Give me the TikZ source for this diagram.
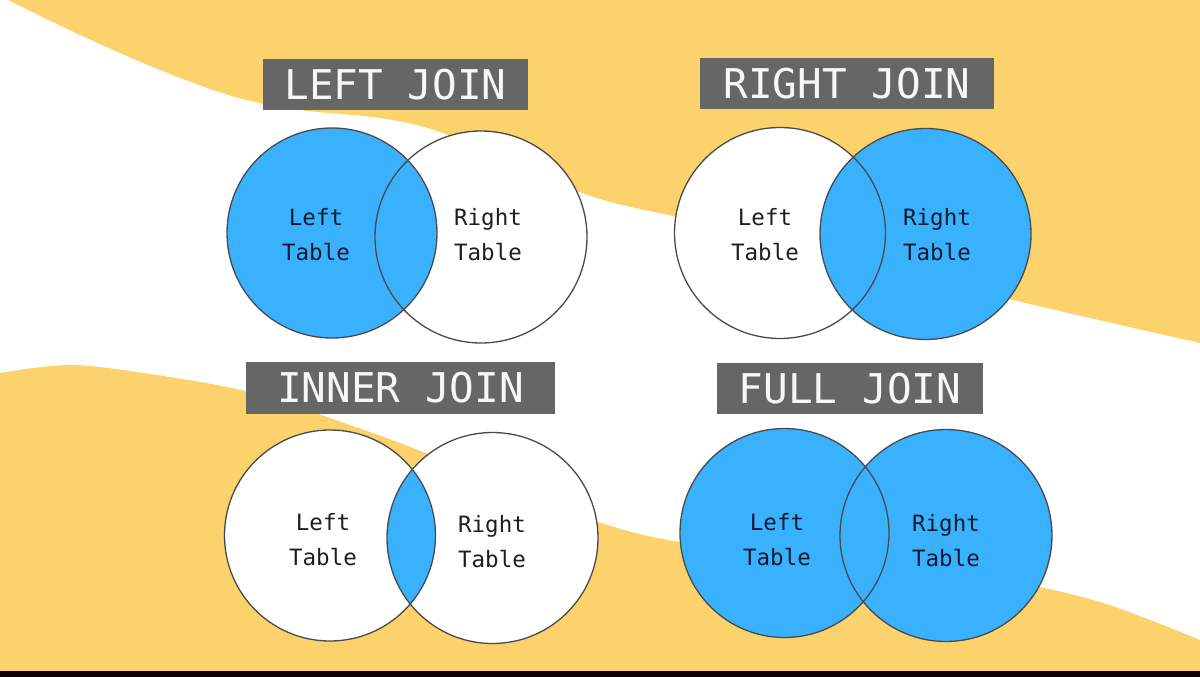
\documentclass[tikz,border=0pt]{standalone}
\usepackage{fontspec}
\newfontfamily\monof{DejaVu Sans Mono}
\definecolor{bandyellow}{HTML}{FCD26C}
\definecolor{vennblue}{HTML}{3AB1FF}
\definecolor{boxgray}{HTML}{666666}
\definecolor{ring}{HTML}{4A4A4A}
\definecolor{inkdark}{HTML}{1E1E1E}
\definecolor{inknavy}{HTML}{0B1B2E}
\definecolor{titlewhite}{HTML}{F7F7F7}
\begin{document}
\begin{tikzpicture}[x=1pt,y=-1pt,
  titlebox/.style={fill=boxgray, text=titlewhite, font=\monof\fontsize{41}{48}\selectfont, inner sep=0pt, minimum height=51pt},
  venn/.style={circle, draw=ring, line width=1.3pt, inner sep=0pt},
  lbl/.style={align=center, font=\monof\fontsize{22.5}{35}\selectfont, text=inkdark},
  lblb/.style={lbl, text=inknavy}]
% background
\fill[white] (0,0) rectangle (1200,677);
\useasboundingbox (0,0) rectangle (1200,677);
% top yellow band
\fill[bandyellow] plot[smooth, tension=0.55] coordinates {(8,0) (80,35) (160,70) (235,97) (300,110) (380,118) (440,132) (520,167) (600,199) (700,222) (850,258) (1013,300) (1200,343)} -- (1200,0) -- cycle;
% bottom yellow band
\fill[bandyellow] plot[smooth, tension=0.55] coordinates {(0,373) (70,365) (150,374) (245,391) (330,418) (423,452) (510,490) (598,522) (680,542) (860,564) (1000,580) (1100,602) (1200,640)} -- (1200,677) -- (0,677) -- cycle;
% black bar
\fill[black!95!red] (0,671) rectangle (1200,677);

% centres
\coordinate (ljlc) at (332,233);
\coordinate (ljrc) at (481,237);
\coordinate (rjlc) at (780,233);
\coordinate (rjrc) at (925.5,234);
\coordinate (ijlc) at (330,535.5);
\coordinate (ijrc) at (492.5,538);
\coordinate (fjlc) at (784.5,533);
\coordinate (fjrc) at (946,535.5);

% LEFT JOIN
\fill[white] (ljrc) circle[radius=106pt];
\fill[vennblue] (ljlc) circle[radius=105pt];
\node[venn, minimum size=212pt] (ljr) at (ljrc) {};
\node[venn, minimum size=210pt] (ljl) at (ljlc) {};
\node[titlebox, minimum width=265pt] (ljt) at (395.5,84.5) {LEFT JOIN};
\node[lblb] (ljltx) at (316,235) {Left\\Table};
\node[lbl] (ljrtx) at (488,235) {Right\\Table};

% RIGHT JOIN
\fill[white] (rjlc) circle[radius=105.5pt];
\fill[vennblue] (rjrc) circle[radius=105.5pt];
\node[venn, minimum size=211pt] (rjl) at (rjlc) {};
\node[venn, minimum size=211pt] (rjr) at (rjrc) {};
\node[titlebox, minimum width=294pt] (rjt) at (847,83.5) {RIGHT JOIN};
\node[lbl] (rjltx) at (765,235) {Left\\Table};
\node[lblb] (rjrtx) at (937,235) {Right\\Table};

% INNER JOIN
\fill[white] (ijlc) circle[radius=105.5pt];
\fill[white] (ijrc) circle[radius=105.5pt];
\begin{scope}
  \clip (ijlc) circle[radius=105.5pt];
  \fill[vennblue] (ijrc) circle[radius=105.5pt];
\end{scope}
\node[venn, minimum size=211pt] (ijl) at (ijlc) {};
\node[venn, minimum size=211pt] (ijr) at (ijrc) {};
\node[titlebox, minimum width=309pt, minimum height=52pt] (ijt) at (400.5,388) {INNER JOIN};
\node[lbl] (ijltx) at (323,539.5) {Left\\Table};
\node[lbl] (ijrtx) at (492,542) {Right\\Table};

% FULL JOIN
\fill[vennblue] (fjlc) circle[radius=104.5pt];
\fill[vennblue] (fjrc) circle[radius=106pt];
\node[venn, minimum size=209pt] (fjl) at (fjlc) {};
\node[venn, minimum size=212pt] (fjr) at (fjrc) {};
\node[titlebox, minimum width=266pt] (fjt) at (850,388.5) {FULL JOIN};
\node[lblb] (fjltx) at (777,539.5) {Left\\Table};
\node[lblb] (fjrtx) at (946,540.5) {Right\\Table};
\end{tikzpicture}
\end{document}
